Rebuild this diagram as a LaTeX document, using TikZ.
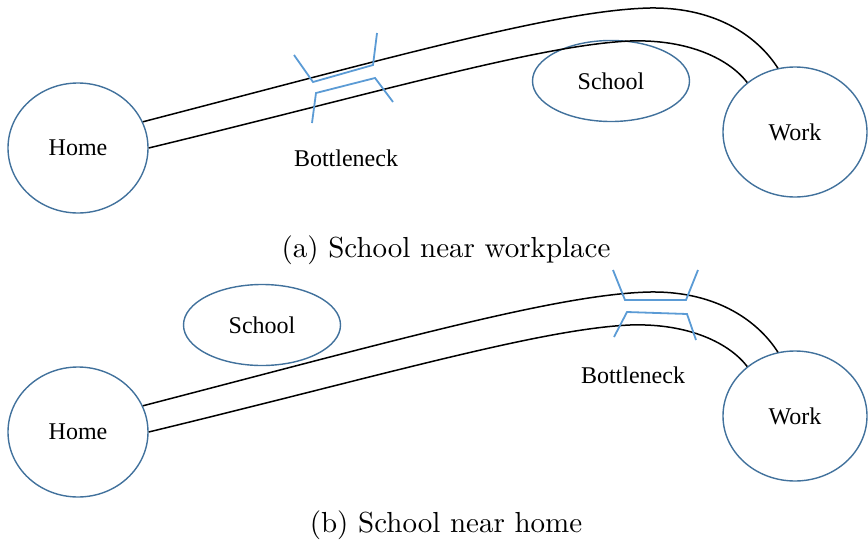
\documentclass[tikz,border=0pt]{standalone}
\usepackage{fontspec}
\newfontfamily\tnrfont{Liberation Serif}
\usepackage{graphicx}
\usepackage{tikz}
\usetikzlibrary{shapes.geometric}
\definecolor{placeblue}{RGB}{65,113,156}
\definecolor{neckblue}{RGB}{91,155,213}
\newcommand{\subcaptext}[1]{\scalebox{2.9}{\fontsize{10}{12}\selectfont #1}}

\begin{document}
\begin{tikzpicture}[
  x=1pt, y=-1pt,
  place/.style={draw=placeblue, ellipse, line width=1.4pt, inner sep=0pt, font=\tnrfont\fontsize{24}{28}\selectfont},
  home/.style={place, minimum width=140pt, minimum height=130pt},
  work/.style={place, minimum width=144pt, minimum height=130pt},
  school/.style={place, minimum width=157pt, minimum height=81pt},
  road/.style={draw=black, line width=1.5pt},
  neck/.style={draw=neckblue, line width=1.8pt},
  lbl/.style={font=\tnrfont\fontsize{24}{28}\selectfont},
  subcap/.style={anchor=base, inner sep=0pt}
]
\useasboundingbox (0,0) rectangle (868,541);

% (a) school near workplace
\node[home] (homeA) at (78,148) {Home};
\node[work] (workA) at (795,132) {Work};
\node[school] (schoolA) at (611,81) {School};

\draw[road] (homeA.22) .. controls (400,55) and (560,10) .. (650,8) .. controls (720,7) and (760,40) .. (workA.105);
\draw[road] (homeA.0) .. controls (380,92) and (540,45) .. (630,41) .. controls (690,39) and (730,60) .. (workA.134);

\draw[neck] (294,55) -- (313,82) -- (373,65) -- (377,33);
\draw[neck] (312,123) -- (316,93) -- (375,78) -- (393,102);
\node[lbl] (neckA) at (346,158) {Bottleneck};

\node[subcap] (capA) at (446,257) {\subcaptext{(a) School near workplace}};

% (b) school near home
\node[home] (homeB) at (78,432) {Home};
\node[work] (workB) at (795,416) {Work};
\node[school] (schoolB) at (262,325) {School};

\begin{scope}[shift={(0,284)}]
\draw[road] (homeB.22) .. controls (400,55) and (560,10) .. (650,8) .. controls (720,7) and (760,40) .. (workB.105);
\draw[road] (homeB.0) .. controls (380,92) and (540,45) .. (630,41) .. controls (690,39) and (730,60) .. (workB.134);
\end{scope}

\draw[neck] (613,270) -- (625,300) -- (686,300) -- (698,270);
\draw[neck] (614,337) -- (627,312) -- (687,314) -- (696,340);
\node[lbl] (neckB) at (633,375) {Bottleneck};

\node[subcap] (capB) at (446,532) {\subcaptext{(b) School near home}};
\end{tikzpicture}
\end{document}
